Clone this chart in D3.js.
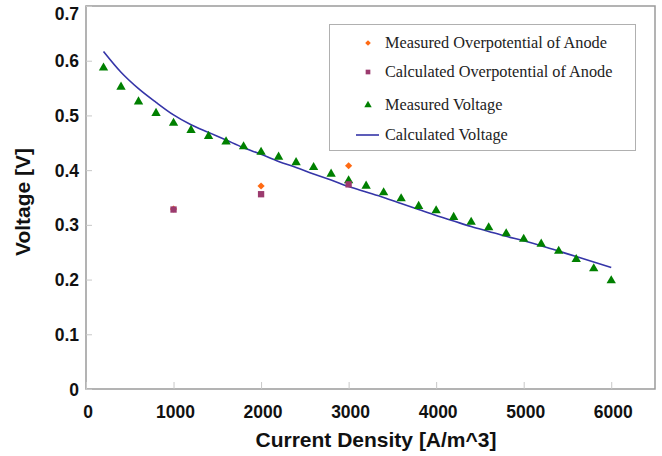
<!DOCTYPE html>
<html>
<head>
<meta charset="utf-8">
<script src="https://cdn.jsdelivr.net/npm/d3@7"></script>
<style>
  body { margin: 0; background: #fff; }
  svg { display: block; }
</style>
</head>
<body>
<div id="chart"></div>
<script>
// current density [A/m^3]
const currents = [200, 400, 600, 800, 1000, 1200, 1400, 1600, 1800, 2000,
  2200, 2400, 2600, 2800, 3000, 3200, 3400, 3600, 3800, 4000,
  4200, 4400, 4600, 4800, 5000, 5200, 5400, 5600, 5800, 6000]
const measuredVoltage = [0.587, 0.552, 0.525, 0.504, 0.486, 0.473, 0.462, 0.452, 0.443, 0.433,
  0.424, 0.414, 0.405, 0.393, 0.381, 0.371, 0.359, 0.348, 0.334, 0.326,
  0.314, 0.305, 0.295, 0.284, 0.274, 0.265, 0.252, 0.237, 0.220, 0.198]
const calculatedVoltage = [0.617, 0.579, 0.549, 0.524, 0.501, 0.483, 0.469, 0.455, 0.441, 0.429,
  0.416, 0.405, 0.393, 0.382, 0.370, 0.360, 0.350, 0.339, 0.328, 0.317,
  0.307, 0.297, 0.288, 0.279, 0.271, 0.262, 0.252, 0.242, 0.232, 0.222]
const anodeCurrents = [1000, 2000, 3000]
const measuredAnode = [0.329, 0.371, 0.408]
const calculatedAnode = [0.328, 0.356, 0.374]

const xTicks = [0, 1000, 2000, 3000, 4000, 5000, 6000]
const yTicks = [0, 0.1, 0.2, 0.3, 0.4, 0.5, 0.6, 0.7]
const legendLabels = ['Measured Overpotential of Anode', 'Calculated Overpotential of Anode',
  'Measured Voltage', 'Calculated Voltage']

const width = 662
const height = 456
const margin = { top: 6, right: 7, bottom: 67, left: 86 }

const svg = d3.select('#chart').append('svg')
  .attr('width', width)
  .attr('height', height)

const x = d3.scaleLinear().domain([0, 6500]).range([margin.left, width - margin.right])
const y = d3.scaleLinear().domain([0, 0.7]).range([height - margin.bottom, margin.top])

const gray = '#9a9a9a'

// plot frame
svg.append('rect')
  .attr('x', x(0)).attr('y', y(0.7))
  .attr('width', x(6500) - x(0)).attr('height', y(0) - y(0.7))
  .attr('fill', 'none').attr('stroke', gray).attr('stroke-width', 1.5)

// axes with inward ticks
const xAxis = svg.append('g')
  .attr('transform', 'translate(0,' + y(0) + ')')
  .call(d3.axisTop(x).tickValues(xTicks).tickSize(7).tickFormat(''))
xAxis.select('.domain').remove()
xAxis.selectAll('line').attr('stroke', '#c8c8c8')

const yAxis = svg.append('g')
  .attr('transform', 'translate(' + x(0) + ',0)')
  .call(d3.axisRight(y).tickValues(yTicks).tickSize(6).tickFormat(''))
yAxis.select('.domain').remove()
yAxis.selectAll('line').attr('stroke', '#c8c8c8')

const tickFont = 'Liberation Sans, Arial, sans-serif'

svg.append('g').selectAll('text')
  .data(xTicks)
  .enter()
  .append('text')
  .attr('x', function (d) { return x(d) + 2 })
  .attr('y', 418)
  .attr('text-anchor', 'middle')
  .attr('font-family', tickFont)
  .attr('font-weight', 'bold')
  .attr('font-size', 17.5)
  .attr('fill', '#111')
  .text(function (d) { return d })

// top label is pushed down so it stays inside the picture
svg.append('g').selectAll('text')
  .data(yTicks)
  .enter()
  .append('text')
  .attr('x', 79)
  .attr('y', function (d) { return Math.max(y(d) + 6.5, 19.5) })
  .attr('text-anchor', 'end')
  .attr('font-family', tickFont)
  .attr('font-weight', 'bold')
  .attr('font-size', 17.5)
  .attr('fill', '#111')
  .text(function (d) { return d === 0 ? '0' : d3.format('.1f')(d) })

// axis titles
svg.append('text')
  .attr('x', 376).attr('y', 447)
  .attr('text-anchor', 'middle')
  .attr('font-family', tickFont)
  .attr('font-weight', 'bold')
  .attr('font-size', 21)
  .attr('fill', '#111')
  .text('Current Density [A/m^3]')

svg.append('text')
  .attr('transform', 'translate(30,202) rotate(-90)')
  .attr('text-anchor', 'middle')
  .attr('font-family', tickFont)
  .attr('font-weight', 'bold')
  .attr('font-size', 21)
  .attr('fill', '#111')
  .text('Voltage [V]')

// calculated voltage line
const line = d3.line()
  .curve(d3.curveMonotoneX)
  .x(function (d) { return x(d[0]) })
  .y(function (d) { return y(d[1]) })
svg.append('path')
  .datum(d3.zip(currents, calculatedVoltage))
  .attr('d', line)
  .attr('fill', 'none')
  .attr('stroke', '#3535a8')
  .attr('stroke-width', 1.6)

// measured voltage triangles
const tri = d3.symbol().type(d3.symbolTriangle).size(38)
svg.append('g').selectAll('path')
  .data(d3.zip(currents, measuredVoltage))
  .enter()
  .append('path')
  .attr('d', tri)
  .attr('transform', function (d) { return 'translate(' + x(d[0]) + ',' + y(d[1]) + ')' })
  .attr('fill', '#008000')

// anode overpotentials (diamond = rotated square)
const diamond = d3.symbol().type(d3.symbolSquare).size(26)
svg.append('g').selectAll('path')
  .data(d3.zip(anodeCurrents, measuredAnode))
  .enter()
  .append('path')
  .attr('d', diamond)
  .attr('transform', function (d) { return 'translate(' + x(d[0]) + ',' + y(d[1]) + ') rotate(45)' })
  .attr('fill', '#ff6a13')

const square = d3.symbol().type(d3.symbolSquare).size(40)
svg.append('g').selectAll('path')
  .data(d3.zip(anodeCurrents, calculatedAnode))
  .enter()
  .append('path')
  .attr('d', square)
  .attr('transform', function (d) { return 'translate(' + x(d[0]) + ',' + y(d[1]) + ')' })
  .attr('fill', '#9b3a6e')

// legend
const legend = svg.append('g')
legend.append('rect')
  .attr('x', 329.5).attr('y', 24.5)
  .attr('width', 306).attr('height', 126)
  .attr('fill', '#fff').attr('stroke', '#b0b0b0').attr('stroke-width', 1)

const rowY = [43, 72, 105, 135]
const legendSymbols = [
  d3.symbol().type(d3.symbolSquare).size(16),
  d3.symbol().type(d3.symbolSquare).size(22),
  d3.symbol().type(d3.symbolTriangle).size(24)
]
const legendRot = [45, 0, 0]
const legendColors = ['#ff6a13', '#9b3a6e', '#008000']
legendSymbols.forEach(function (s, i) {
  legend.append('path')
    .attr('d', s)
    .attr('transform', 'translate(368,' + rowY[i] + ') rotate(' + legendRot[i] + ')')
    .attr('fill', legendColors[i])
})
legend.append('line')
  .attr('x1', 356).attr('x2', 379)
  .attr('y1', rowY[3]).attr('y2', rowY[3])
  .attr('stroke', '#3535a8').attr('stroke-width', 1.6)

legend.selectAll('text')
  .data(legendLabels)
  .enter()
  .append('text')
  .attr('x', 385)
  .attr('y', function (d, i) { return rowY[i] + 5 })
  .attr('font-family', 'Liberation Serif, Times New Roman, serif')
  .attr('font-size', 16.3)
  .attr('fill', '#222')
  .text(function (d) { return d })
</script>
</body>
</html>
